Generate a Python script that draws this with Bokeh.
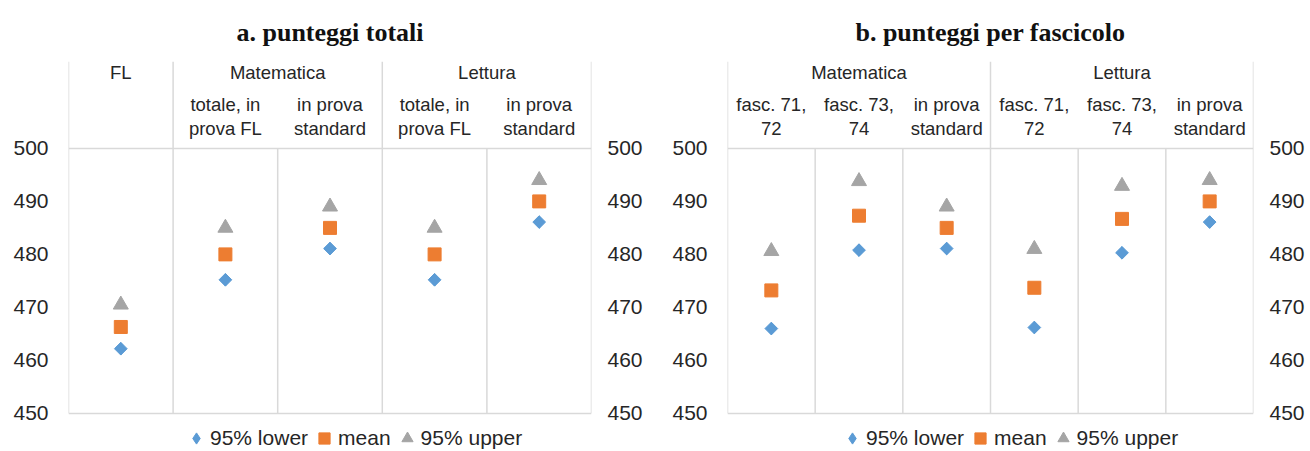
import math
from bokeh.plotting import figure
from bokeh.models import ColumnDataSource, FixedTicker, LinearAxis, Legend, LegendItem, Range1d
from bokeh.layouts import row
from bokeh.core.properties import value
from bokeh.embed import file_html
from bokeh.resources import INLINE

# ---------------- data ----------------
a_title = "a. punteggi totali"
a_groups = ["FL", "Matematica", "Matematica", "Lettura", "Lettura"]
a_subs = ["", "totale, in\nprova FL", "in prova\nstandard", "totale, in\nprova FL", "in prova\nstandard"]
a_lower = [462.2, 475.2, 481.1, 475.2, 486.1]
a_mean = [466.3, 480.0, 485.0, 480.0, 490.0]
a_upper = [470.5, 485.0, 489.0, 485.0, 494.0]

b_title = "b. punteggi per fascicolo"
b_groups = ["Matematica", "Matematica", "Matematica", "Lettura", "Lettura", "Lettura"]
b_subs = ["fasc. 71,\n72", "fasc. 73,\n74", "in prova\nstandard", "fasc. 71,\n72", "fasc. 73,\n74", "in prova\nstandard"]
b_lower = [466.0, 480.8, 481.1, 466.2, 480.3, 486.1]
b_mean = [473.2, 487.3, 485.0, 473.7, 486.7, 490.0]
b_upper = [480.6, 493.8, 489.0, 481.0, 492.9, 494.0]

y_ticks = [450, 460, 470, 480, 490, 500]
series_names = ["95% lower", "mean", "95% upper"]

# ---------------- style ----------------
C_LOWER = "#5B9BD5"
C_MEAN = "#ED7D31"
C_UPPER = "#A5A5A5"
GRID = "#D9D9D9"
TXT = "#262626"
FONT = "Liberation Sans"
Y_TOP = 516.4
Y_BOTTOM = 442.8
Y_GROUP = 514.3
Y_SUB = 506.1


def make_panel(title, groups, subs, lower, mean, upper, width, bl, br, leg_x):
    n = len(groups)
    p = figure(width=width, height=451, output_backend="svg", toolbar_location=None,
               x_range=Range1d(0, n), y_range=Range1d(Y_BOTTOM, Y_TOP),
               x_axis_location=None, min_border_left=bl, min_border_right=br,
               min_border_top=61, min_border_bottom=0)
    p.outline_line_color = None
    p.background_fill_color = "white"
    p.border_fill_color = "white"
    p.xgrid.visible = False
    p.ygrid.ticker = FixedTicker(ticks=[y_ticks[0], y_ticks[-1]])
    p.ygrid.grid_line_color = GRID
    p.ygrid.grid_line_width = 1.5

    # title
    p.title.text = title
    p.title.align = "center"
    p.title.text_font = "Liberation Serif"
    p.title.text_font_style = "bold"
    p.title.text_font_size = "26px"
    p.title.text_color = "#111111"
    p.title.standoff = 30

    # y axes (left and right)
    p.yaxis.ticker = FixedTicker(ticks=y_ticks)
    right = LinearAxis(ticker=FixedTicker(ticks=y_ticks))
    p.add_layout(right, "right")
    for ax in p.yaxis:
        ax.axis_line_color = None
        ax.major_tick_line_color = None
        ax.minor_tick_line_color = None
        ax.major_tick_out = 0
        ax.major_tick_in = 0
        ax.minor_tick_out = 0
        ax.major_label_text_font = FONT
        ax.major_label_text_font_size = "21px"
        ax.major_label_text_color = TXT
    p.yaxis[0].major_label_standoff = 20
    right.major_label_standoff = 16

    # separators: every category boundary in plotting area, group boundaries in header
    bounds = list(range(n + 1))
    gb = [0] + [i for i in range(1, n) if groups[i] != groups[i - 1]] + [n]
    p.segment(x0=bounds, x1=bounds, y0=[y_ticks[0]] * len(bounds), y1=[y_ticks[-1]] * len(bounds),
              line_color=GRID, line_width=1.5)
    p.segment(x0=gb, x1=gb, y0=[y_ticks[-1]] * len(gb), y1=[Y_TOP] * len(gb),
              line_color=GRID, line_width=1.5)

    # header labels
    gx = [(gb[i] + gb[i + 1]) / 2 for i in range(len(gb) - 1)]
    gl = [groups[gb[i]] for i in range(len(gb) - 1)]
    p.text(x=gx, y=[Y_GROUP] * len(gx), text=gl, text_align="center", text_baseline="middle",
           text_font=value(FONT), text_font_size="18.5px", text_color=TXT)
    sx = [i + 0.5 for i in range(n) if subs[i]]
    sl = [s for s in subs if s]
    p.text(x=sx, y=[Y_SUB] * len(sx), text=sl, text_align="center", text_baseline="middle",
           text_font=value(FONT), text_font_size="18.5px", text_color=TXT, text_line_height=1.15)

    xs = [i + 0.5 for i in range(n)]
    src = ColumnDataSource(dict(x=xs, lower=lower, mean=mean, upper=upper))
    # diamond key for the legend (legend swatches ignore marker rotation); it sits fully
    # underneath the rotated-square markers of the same series
    r1_key = p.scatter("x", "lower", source=src, marker="diamond", size=12, color=C_LOWER)
    r1 = p.scatter("x", "lower", source=src, marker="square", angle=math.pi / 4, size=9, color=C_LOWER)
    r2 = p.scatter("x", "mean", source=src, marker="square", size=13, color=C_MEAN)
    r3 = p.scatter("x", "upper", source=src, marker="triangle", size=15, color=C_UPPER)

    legend = Legend(items=[LegendItem(label=series_names[0], renderers=[r1_key]),
                           LegendItem(label=series_names[1], renderers=[r2]),
                           LegendItem(label=series_names[2], renderers=[r3])],
                    orientation="horizontal", location=(leg_x, -1))
    legend.label_text_font = FONT
    legend.label_text_font_size = "21px"
    legend.label_text_color = TXT
    legend.border_line_color = None
    legend.background_fill_alpha = 0
    legend.glyph_width = 28
    legend.glyph_height = 28
    legend.label_standoff = -7
    legend.spacing = 2
    legend.padding = 0
    legend.margin = 0
    legend.label_height = 18
    p.add_layout(legend, "center")
    return p


pa = make_panel(a_title, a_groups, a_subs, a_lower, a_mean, a_upper, 655, 68, 64, 114)
pb = make_panel(b_title, b_groups, b_subs, b_lower, b_mean, b_upper, 655, 72, 57, 111)

layout = row(pa, pb)
open("out.html", "w").write(file_html(layout, INLINE))
